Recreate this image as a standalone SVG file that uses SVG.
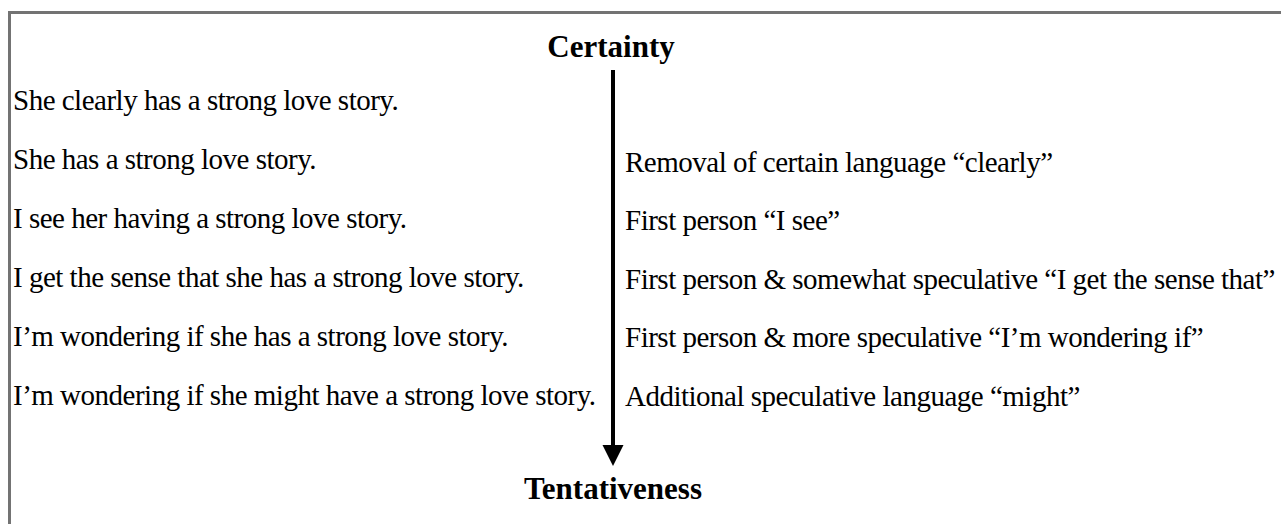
<svg xmlns="http://www.w3.org/2000/svg" width="1281" height="524" viewBox="0 0 1281 524">
<style>
.t{font-family:"Liberation Serif","Times New Roman",serif;font-size:29px;letter-spacing:-0.5px;fill:#000}
.b{font-family:"Liberation Serif","Times New Roman",serif;font-size:31px;font-weight:bold;fill:#000;text-anchor:middle}
</style>
<rect width="1281" height="524" fill="#fff"/>
<g id="frame" fill="none" stroke="#737373" stroke-width="3">
<path d="M9.5 524 V12.5 H1281"/>
</g>
<g id="connectors">
<line x1="613" y1="70" x2="613" y2="447" stroke="#000" stroke-width="4"/>
<polygon points="602.5,445 623.5,445 613,466" fill="#000"/>
</g>
<g id="top-label"><text class="b" x="611" y="57">Certainty</text></g>
<g id="bottom-label"><text class="b" x="613" y="499">Tentativeness</text></g>
<g id="left-statements">
<text class="t" x="13" y="110">She clearly has a strong love story.</text>
<text class="t" x="13" y="169">She has a strong love story.</text>
<text class="t" x="13" y="228">I see her having a strong love story.</text>
<text class="t" x="13" y="287">I get the sense that she has a strong love story.</text>
<text class="t" x="13" y="346">I’m wondering if she has a strong love story.</text>
<text class="t" x="13" y="405">I’m wondering if she might have a strong love story.</text>
</g>
<g id="right-notes">
<text class="t" x="625" y="172">Removal of certain language “clearly”</text>
<text class="t" x="625" y="230">First person “I see”</text>
<text class="t" x="625" y="289">First person &amp; somewhat speculative “I get the sense that”</text>
<text class="t" x="625" y="347">First person &amp; more speculative “I’m wondering if”</text>
<text class="t" x="625" y="406">Additional speculative language “might”</text>
</g>
</svg>
